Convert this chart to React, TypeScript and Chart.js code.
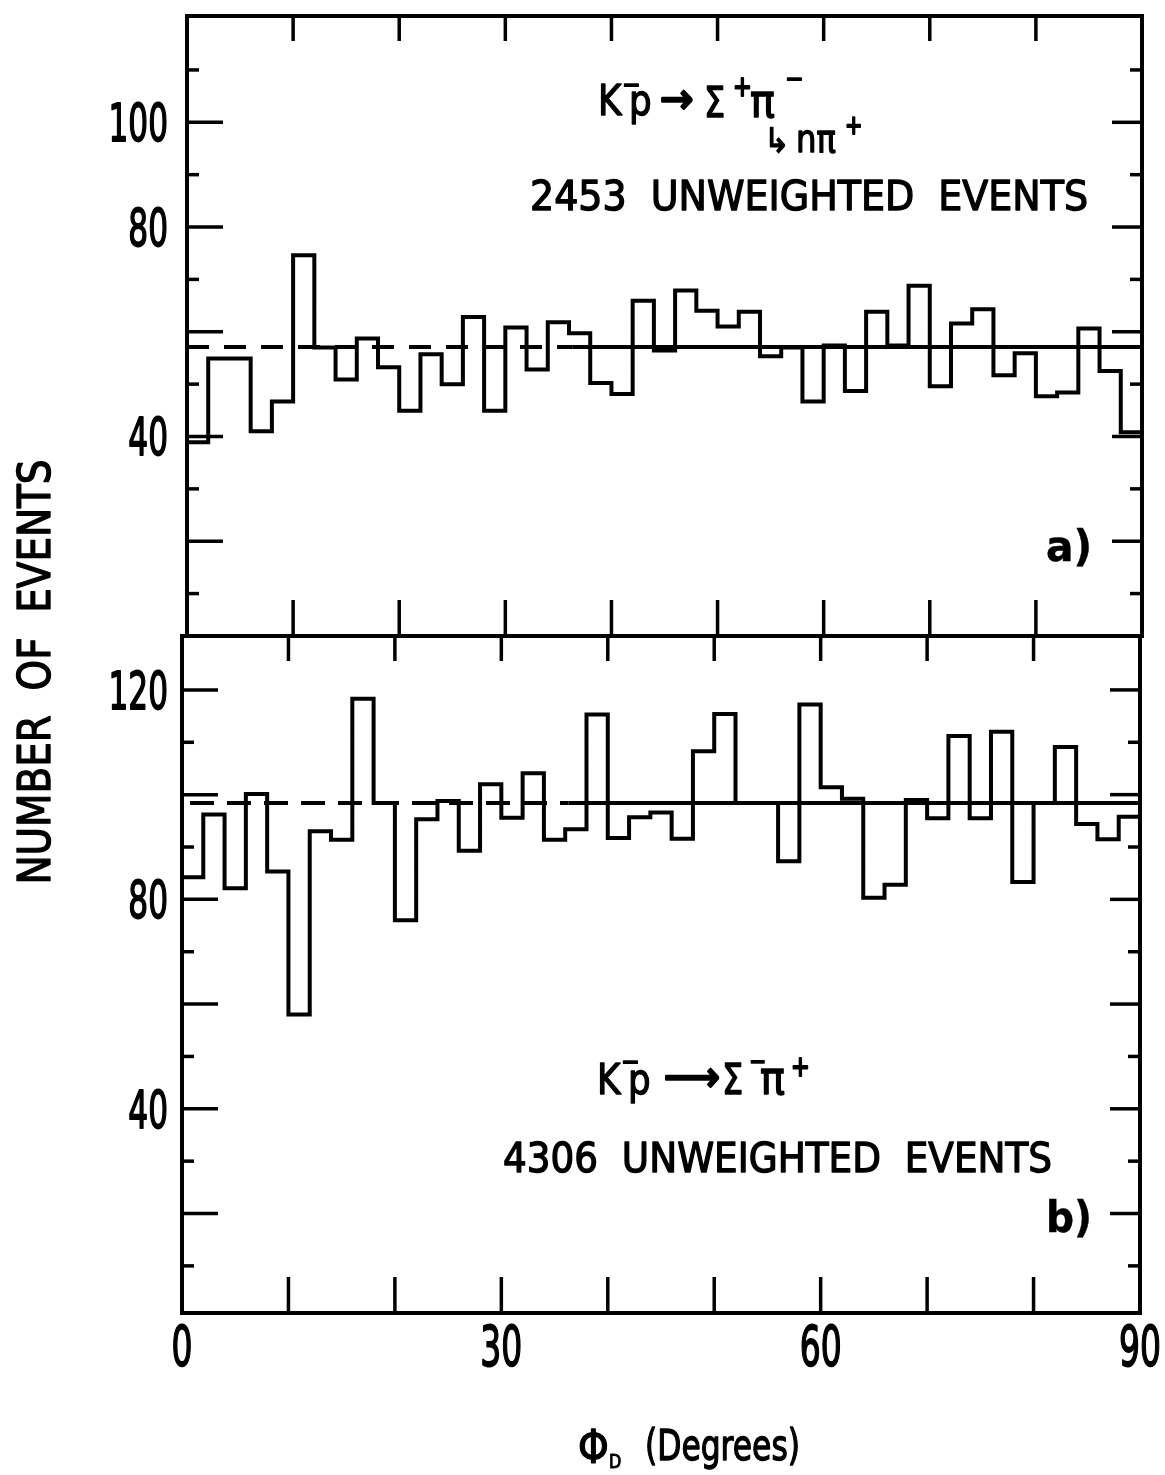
import React, { useEffect, useRef } from 'react';
import { Chart, registerables } from 'chart.js';

Chart.register(...registerables);

const W = 1165;
const H = 1475;

// ---- data ----
const binEdges = [0, 2, 4, 6, 8, 10, 12, 14, 16, 18, 20, 22, 24, 26, 28, 30, 32, 34, 36, 38, 40, 42, 44, 46, 48, 50, 52, 54, 56, 58, 60, 62, 64, 66, 68, 70, 72, 74, 76, 78, 80, 82, 84, 86, 88, 90];

const upperCounts = [38.9, 54.9, 54.9, 41.0, 46.7, 74.6, 57.0, 50.9, 58.7, 53.2, 44.9, 55.7, 50.0, 62.8, 44.9, 60.8, 52.8, 61.8, 59.7, 50.2, 48.1, 65.9, 56.4, 67.9, 64.0, 61.0, 63.8, 55.3, 57.0, 46.7, 57.4, 48.7, 63.8, 57.4, 68.8, 49.6, 61.6, 64.3, 51.7, 55.9, 47.7, 48.4, 60.6, 52.5, 40.8];
const lowerCounts = [84.2, 96.2, 82.1, 100.1, 85.3, 58.0, 93.0, 91.4, 118.3, 98.4, 76.0, 95.3, 98.8, 89.3, 102.0, 95.6, 104.1, 91.4, 93.4, 115.3, 91.7, 95.7, 96.6, 91.6, 108.3, 115.4, 98.4, 98.4, 87.3, 117.2, 101.4, 99.2, 80.3, 82.8, 99.0, 95.5, 111.2, 95.5, 112.0, 83.3, 98.4, 109.1, 94.4, 91.5, 95.8];

const upperMean = [57.1];
const lowerMean = [98.4];
const meanLineX = [0, 36.3, 90];

const xTickMarks = [10, 20, 30, 40, 50, 60, 70, 80];
const xTickLabels = [0, 30, 60, 90];
const yTickMarks = [10, 20, 30, 40, 50, 60, 70, 80, 90, 100, 110, 120];
const upperYLabels = [40, 80, 100];
const lowerYLabels = [40, 80, 120];

const FONT = '"DejaVu Sans", "Liberation Sans", sans-serif';

type TOpts = { sx?: number; width?: number; align?: CanvasTextAlign; rot?: number; bold?: boolean; lw?: number };

function txt(ctx: CanvasRenderingContext2D, s: string, x: number, y: number, size: number, o: TOpts = {}) {
  ctx.save();
  ctx.font = `${o.bold ? 'bold ' : ''}${size}px ${FONT}`;
  const w = ctx.measureText(s).width;
  const sx = o.width ? o.width / w : o.sx ?? 1;
  ctx.translate(x, y);
  if (o.rot) ctx.rotate(o.rot);
  ctx.scale(sx, 1);
  ctx.textAlign = o.align || 'left';
  ctx.textBaseline = 'alphabetic';
  ctx.fillStyle = '#000';
  ctx.fillText(s, 0, 0);
  const lw = o.lw ?? 1.4;
  if (lw > 0) {
    ctx.strokeStyle = '#000';
    ctx.lineWidth = lw;
    ctx.lineJoin = 'round';
    ctx.strokeText(s, 0, 0);
  }
  ctx.restore();
}

function line(ctx: CanvasRenderingContext2D, x1: number, y1: number, x2: number, y2: number) {
  ctx.beginPath();
  ctx.moveTo(x1, y1);
  ctx.lineTo(x2, y2);
  ctx.stroke();
}

function histPoints(counts: number[]) {
  return binEdges.map((e, i) => ({ x: e, y: counts[Math.max(0, i - 1)] }));
}

function meanPoints(m: number[]) {
  return meanLineX.map((x) => ({ x, y: m[0] }));
}

function makeDecor(panel: 'upper' | 'lower') {
  return {
    id: 'decor-' + panel,
    afterDatasetsDraw(chart: any) {
      const { ctx, chartArea: a, scales } = chart;
      const xs = scales.x;
      const ys = scales.y;
      ctx.save();
      ctx.strokeStyle = '#000';
      ctx.lineWidth = 4;
      ctx.strokeRect(a.left, a.top, a.right - a.left, a.bottom - a.top);
      ctx.lineWidth = 3.5;
      for (const v of xTickMarks) {
        const px = xs.getPixelForValue(v);
        line(ctx, px, a.top, px, a.top + 25);
        line(ctx, px, a.bottom, px, a.bottom - 36);
      }
      for (const v of yTickMarks) {
        const py = ys.getPixelForValue(v);
        if (py <= a.top + 2 || py >= a.bottom - 2) continue;
        const long = v % 20 === 0;
        line(ctx, a.left, py, a.left + (long ? 36 : 12), py);
        line(ctx, a.right, py, a.right - (long ? 30 : 12), py);
      }
      const ylabs = panel === 'upper' ? upperYLabels : lowerYLabels;
      for (const v of ylabs) {
        const py = ys.getPixelForValue(v);
        txt(ctx, String(v), 168, py + 19, 52, { sx: 0.6, align: 'right', lw: 1.8 });
      }
      if (panel === 'upper') {
        // reaction K-p -> Sigma+ pi-, Sigma+ -> n pi+
        txt(ctx, 'K', 598, 115, 42, { sx: 0.85 });
        txt(ctx, '\u2212', 622, 94, 28, { sx: 0.8 });
        txt(ctx, 'p', 629, 115, 42, { sx: 0.85 });
        txt(ctx, '\u2192', 660, 113, 42, { sx: 0.95, lw: 2.5 });
        txt(ctx, '\u03A3', 704, 117, 42, { sx: 0.8 });
        txt(ctx, '+', 733, 96, 28, { sx: 0.8, lw: 2 });
        txt(ctx, '\u03C0', 750, 117, 46, { sx: 0.9 });
        txt(ctx, '\u2212', 785, 88, 28, { sx: 0.8 });
        txt(ctx, '\u21B3', 764, 152, 34, { sx: 0.9 });
        txt(ctx, 'n\u03C0', 796, 152, 38, { sx: 0.85 });
        txt(ctx, '+', 845, 134, 26, { sx: 0.8, lw: 2 });
        txt(ctx, '2453  UNWEIGHTED  EVENTS', 530, 210, 41, { width: 558 });
        txt(ctx, 'a)', 1046, 561, 42, { width: 46, bold: true, lw: 0.5 });
      } else {
        txt(ctx, 'K', 597, 1094, 42, { sx: 0.85 });
        txt(ctx, '\u2212', 621, 1071, 28, { sx: 0.8 });
        txt(ctx, 'p', 628, 1094, 42, { sx: 0.85 });
        txt(ctx, '\u27F6', 664, 1091, 42, { width: 56, lw: 2.5 });
        txt(ctx, '\u03A3', 722, 1094, 42, { sx: 0.8 });
        txt(ctx, '\u2212', 749, 1070, 26, { sx: 0.8 });
        txt(ctx, '\u03C0', 760, 1094, 46, { sx: 0.9 });
        txt(ctx, '+', 791, 1076, 28, { sx: 0.8, lw: 2 });
        txt(ctx, '4306  UNWEIGHTED  EVENTS', 503, 1172, 41, { width: 549 });
        txt(ctx, 'b)', 1046, 1232, 42, { width: 46, bold: true, lw: 0.5 });
        for (const v of xTickLabels) {
          const px = xs.getPixelForValue(v);
          txt(ctx, String(v), px, 1365, 55, { sx: 0.6, align: 'center', lw: 1.8 });
        }
        // axis titles
        txt(ctx, '\u03A6', 578, 1463, 46, { sx: 0.85 });
        txt(ctx, 'D', 609, 1468, 20, { sx: 0.8, lw: 1 });
        txt(ctx, '(Degrees)', 645, 1460, 42, { width: 155 });
        txt(ctx, 'NUMBER  OF  EVENTS', 50, 672, 45, { width: 425, rot: -Math.PI / 2, align: 'center' });
      }
      ctx.restore();
    },
  };
}

function makeConfig(panel: 'upper' | 'lower'): any {
  const upper = panel === 'upper';
  const counts = upper ? upperCounts : lowerCounts;
  const mean = upper ? upperMean : lowerMean;
  const dash = upper ? [22, 15] : [24, 13];
  const dashOff = upper ? 0 : 29;
  const padding = upper
    ? { left: 187, top: 16, right: W - 1142, bottom: H - 636 }
    : { left: 182, top: 636, right: W - 1140, bottom: H - 1313 };
  return {
    type: 'line',
    data: {
      datasets: [
        {
          data: histPoints(counts),
          stepped: 'after',
          borderColor: '#000',
          borderWidth: 4,
          pointRadius: 0,
          fill: false,
          borderJoinStyle: 'miter',
        },
        {
          data: meanPoints(mean),
          borderColor: '#000',
          borderWidth: 4,
          pointRadius: 0,
          fill: false,
          borderDash: [],
          segment: {
            borderDash: (c: any) => (c.p0DataIndex === 0 ? dash : []),
            borderDashOffset: (c: any) => (c.p0DataIndex === 0 ? dashOff : 0),
          },
        },
      ],
    },
    options: {
      responsive: false,
      animation: false,
      events: [],
      layout: { padding },
      plugins: { legend: { display: false }, tooltip: { enabled: false }, title: { display: false } },
      scales: {
        x: { type: 'linear', min: 0, max: 90, display: false },
        y: upper ? { type: 'linear', min: 1.9, max: 120.3, display: false } : { type: 'linear', min: 1.0, max: 130.3, display: false },
      },
    },
    plugins: [makeDecor(panel)],
  };
}

export default function App() {
  const refA = useRef<HTMLCanvasElement>(null);
  const refB = useRef<HTMLCanvasElement>(null);
  useEffect(() => {
    document.body.style.margin = '0';
    document.body.style.overflow = 'hidden';
    const a = new Chart(refA.current as HTMLCanvasElement, makeConfig('upper'));
    const b = new Chart(refB.current as HTMLCanvasElement, makeConfig('lower'));
    return () => {
      a.destroy();
      b.destroy();
    };
  }, []);
  return (
    <div style={{ position: 'absolute', left: 0, top: 0, width: W, height: H, background: '#fff', overflow: 'hidden' }}>
      <canvas ref={refA} width={W} height={H} style={{ position: 'absolute', left: 0, top: 0 }} />
      <canvas ref={refB} width={W} height={H} style={{ position: 'absolute', left: 0, top: 0 }} />
    </div>
  );
}
